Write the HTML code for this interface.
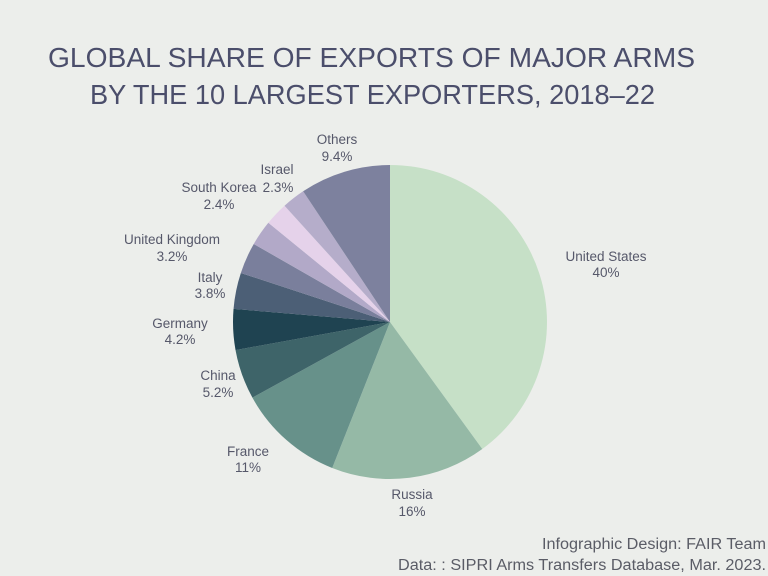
<!DOCTYPE html>
<html><head><meta charset="utf-8"><style>
html,body{margin:0;padding:0;background:#eceeeb;}
svg{display:block;}
text{font-family:"Liberation Sans",sans-serif;}
</style></head><body>
<svg width="768" height="576" viewBox="0 0 768 576" xmlns="http://www.w3.org/2000/svg">
<rect width="768" height="576" fill="#eceeeb"/>
<g fill="#4b4e6b" font-size="28">
<text x="48" y="67" textLength="647" lengthAdjust="spacingAndGlyphs">GLOBAL SHARE OF EXPORTS OF MAJOR ARMS</text>
<text x="90" y="104" textLength="565" lengthAdjust="spacingAndGlyphs">BY THE 10 LARGEST EXPORTERS, 2018–22</text>
</g>
<g stroke="none">
<path d="M390,322 L390,165 A157,157 0 0 1 482.28,449.01 Z" fill="#c6e0c7"/>
<path d="M390,322 L482.28,449.01 A157,157 0 0 1 332.21,467.98 Z" fill="#95b9a6"/>
<path d="M390,322 L332.21,467.98 A157,157 0 0 1 252.42,397.64 Z" fill="#67918a"/>
<path d="M390,322 L252.42,397.64 A157,157 0 0 1 235.53,350.07 Z" fill="#3e6469"/>
<path d="M390,322 L235.53,350.07 A157,157 0 0 1 233.55,308.86 Z" fill="#1f4351"/>
<path d="M390,322 L233.55,308.86 A157,157 0 0 1 240.85,272.97 Z" fill="#4c5f76"/>
<path d="M390,322 L240.85,272.97 A157,157 0 0 1 253.76,243.97 Z" fill="#7a7f9c"/>
<path d="M390,322 L253.76,243.97 A157,157 0 0 1 268.34,222.78 Z" fill="#b2a9c8"/>
<path d="M390,322 L268.34,222.78 A157,157 0 0 1 284.54,205.69 Z" fill="#e5d2ea"/>
<path d="M390,322 L284.54,205.69 A157,157 0 0 1 303.12,191.23 Z" fill="#b5adca"/>
<path d="M390,322 L303.12,191.23 A157,157 0 0 1 390,165 Z" fill="#7d819e"/>
</g>
<g fill="#56586a" font-size="13.5" text-anchor="middle">
<text x="337" y="144">Others</text>
<text x="337" y="161">9.4%</text>
<text x="277" y="174">Israel</text>
<text x="219" y="192">South Korea</text>
<text x="278" y="192">2.3%</text>
<text x="219" y="209">2.4%</text>
<text x="172" y="244">United Kingdom</text>
<text x="172" y="261">3.2%</text>
<text x="210" y="282">Italy</text>
<text x="210" y="298">3.8%</text>
<text x="180" y="328">Germany</text>
<text x="180" y="344">4.2%</text>
<text x="218" y="380">China</text>
<text x="218" y="397">5.2%</text>
<text x="248" y="456">France</text>
<text x="248" y="472">11%</text>
<text x="412" y="499">Russia</text>
<text x="412" y="516">16%</text>
<text x="606" y="261">United States</text>
<text x="606" y="277">40%</text>
</g>
<g fill="#5a5c66" font-size="15.5">
<text x="542" y="549" textLength="224" lengthAdjust="spacingAndGlyphs">Infographic Design: FAIR Team</text>
<text x="398" y="570" textLength="368" lengthAdjust="spacingAndGlyphs">Data: : SIPRI Arms Transfers Database, Mar. 2023.</text>
</g>
</svg>
</body></html>
